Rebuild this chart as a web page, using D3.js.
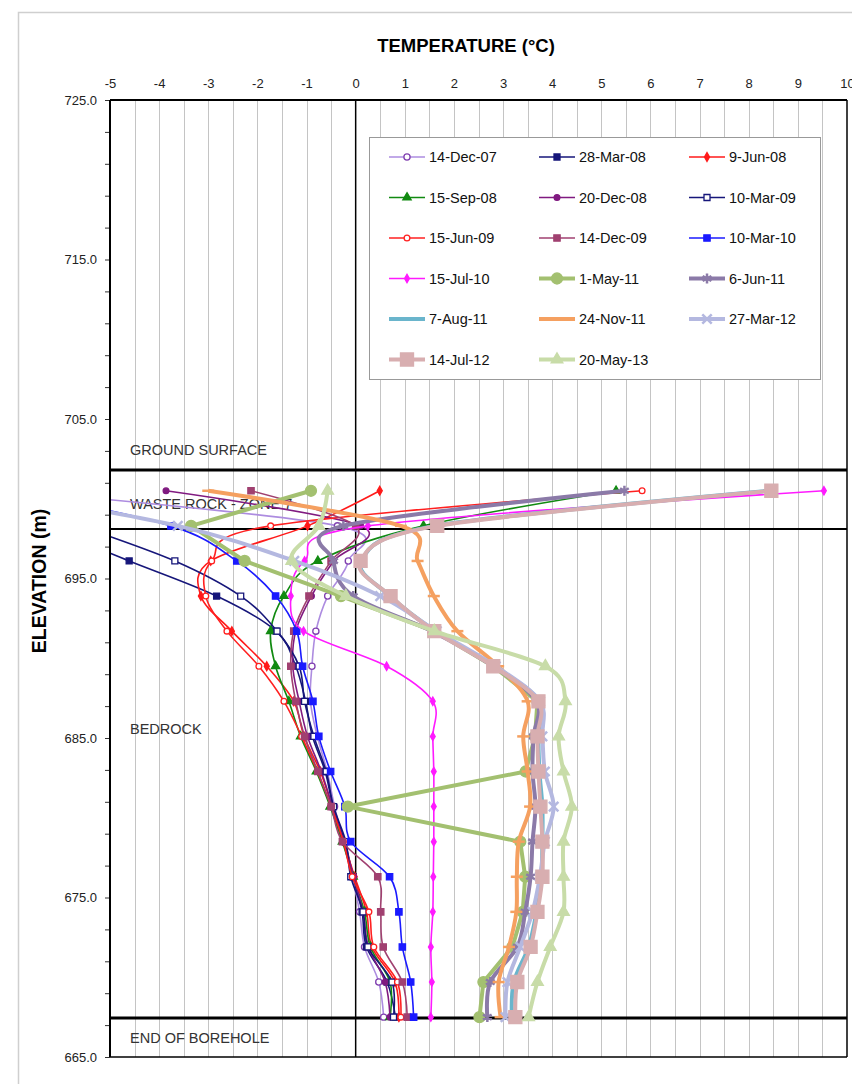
<!DOCTYPE html>
<html>
<head>
<meta charset="utf-8">
<script src="https://cdn.jsdelivr.net/npm/d3@7"></script>
<style>
  body { margin: 0; background: #fff; }
  text { font-family: "Liberation Sans", Arial, sans-serif; }
</style>
</head>
<body>
<svg id="chart" width="852" height="1084"></svg>
<script>
// sensor elevations (m), top to bottom
var elevations = [700.5, 698.3, 696.1, 693.9, 691.7, 689.5, 687.3, 685.1, 682.9, 680.7, 678.5, 676.3, 674.1, 671.9, 669.7, 667.5];

var seriesNames = ["14-Dec-07", "28-Mar-08", "9-Jun-08", "15-Sep-08", "20-Dec-08", "10-Mar-09",
  "15-Jun-09", "14-Dec-09", "10-Mar-10", "15-Jul-10", "1-May-11", "6-Jun-11",
  "7-Aug-11", "24-Nov-11", "27-Mar-12", "14-Jul-12", "20-May-13"];

// temperatures (°C), same order as elevations
var d14Dec07 = [-7.0, -0.37, -0.15, -0.57, -0.81, -0.89, -0.92, -0.78, -0.58, -0.43, -0.25, -0.07, 0.08, 0.18, 0.47, 0.57];
var d28Mar08 = [-8.5, -6.4, -4.61, -2.83, -1.62, -1.22, -1.02, -0.88, -0.62, -0.46, -0.22, -0.05, 0.13, 0.22, 0.64, 0.81];
var d9Jun08  = [0.49, -0.98, -2.95, -3.15, -2.52, -1.81, -1.26, -1.05, -0.72, -0.48, -0.25, -0.02, 0.22, 0.33, 0.80, 0.88];
var d15Sep08 = [5.3, 1.38, -0.77, -1.46, -1.73, -1.63, -1.36, -1.12, -0.80, -0.52, -0.27, -0.05, 0.18, 0.30, 0.70, 0.70];
var d20Dec08 = [-3.86, 0.10, -0.45, -0.90, -1.22, -1.28, -1.15, -0.98, -0.70, -0.47, -0.24, -0.04, 0.15, 0.26, 0.60, 0.70];
var d10Mar09 = [-7.5, -5.6, -3.68, -2.34, -1.60, -1.15, -1.04, -0.85, -0.60, -0.45, -0.20, -0.10, 0.15, 0.25, 0.74, 0.77];
var d15Jun09 = [5.83, -1.73, -2.93, -3.05, -2.62, -1.97, -1.46, -1.10, -0.78, -0.50, -0.25, -0.07, 0.27, 0.37, 0.85, 0.92];
var d14Dec09 = [-2.13, 0.0, -0.50, -0.95, -1.26, -1.32, -1.22, -1.04, -0.77, -0.50, -0.27, 0.45, 0.51, 0.56, 0.95, 1.05];
var d10Mar10 = [-7.0, -3.76, -2.42, -1.63, -1.20, -1.08, -0.87, -0.75, -0.51, -0.22, -0.10, 0.69, 0.88, 0.95, 1.12, 1.18];
var d15Jul10 = [9.53, 0.25, -1.04, -1.32, -1.06, 0.63, 1.57, 1.57, 1.59, 1.59, 1.59, 1.58, 1.57, 1.53, 1.55, 1.53];
var d1May11  = [-0.91, -3.35, -2.26, -0.30, 1.60, 2.80, 3.70, 3.65, 3.46, -0.16, 3.35, 3.45, 3.40, 3.19, 2.60, 2.52];
var d6Jun11  = [5.47, -0.25, -0.45, -0.05, 1.55, 2.80, 3.68, 3.62, 3.60, 3.66, 3.60, 3.56, 3.45, 3.29, 2.74, 2.68];
var d7Aug11  = [8.40, 1.62, 0.12, 0.70, 1.62, 2.82, 3.74, 3.72, 3.74, 3.80, 3.80, 3.78, 3.68, 3.52, 3.22, 3.18];
var d24Nov11 = [-3.0, 0.92, 1.26, 1.59, 2.07, 2.90, 3.50, 3.41, 3.50, 3.55, 3.32, 3.28, 3.27, 3.12, 2.91, 2.95];
var d27Mar12 = [-7.5, -3.62, -1.25, 0.50, 1.65, 2.85, 3.75, 3.80, 3.85, 4.03, 3.85, 3.75, 3.60, 3.35, 3.09, 3.05];
var d14Jul12 = [8.46, 1.66, 0.10, 0.71, 1.60, 2.80, 3.72, 3.70, 3.72, 3.76, 3.80, 3.80, 3.70, 3.56, 3.29, 3.25];
var d20May13 = [-0.57, -0.75, -1.30, -0.20, 1.60, 3.86, 4.27, 4.13, 4.23, 4.40, 4.23, 4.23, 4.23, 3.96, 3.70, 3.52];

var temps = [d14Dec07, d28Mar08, d9Jun08, d15Sep08, d20Dec08, d10Mar09, d15Jun09, d14Dec09, d10Mar10,
  d15Jul10, d1May11, d6Jun11, d7Aug11, d24Nov11, d27Mar12, d14Jul12, d20May13];

// axis ticks
var xTicks = [-5, -4, -3, -2, -1, 0, 1, 2, 3, 4, 5, 6, 7, 8, 9, 10];
var yLabelTicks = [665, 675, 685, 695, 705, 715, 725];

// stratigraphy lines and labels (elevation, m)
var boundaryElev = [701.8, 698.1, 667.45];
var zoneLabels = ["GROUND SURFACE", "WASTE ROCK - ZONE 7", "BEDROCK", "END OF BOREHOLE"];
var zoneLabelElev = [703.05, 699.7, 685.55, 666.2];

// styles per series (same order as seriesNames)
var styles = [
  {color: "#ad8ce0", w: 1.6, marker: "circle",   size: 30,  stroke: "#8040b0", fill: "#fff", smooth: true},
  {color: "#16167a", w: 1.6, marker: "square",   size: 36,  stroke: "#16167a", fill: "#16167a", smooth: true},
  {color: "#ff1a1a", w: 1.6, marker: "diamond",  size: 22,  stroke: "#ff1a1a", fill: "#ff1a1a", smooth: true},
  {color: "#118a11", w: 1.6, marker: "triangle", size: 30,  stroke: "#118a11", fill: "#118a11", smooth: true},
  {color: "#801a80", w: 1.6, marker: "circle",   size: 26,  stroke: "#801a80", fill: "#801a80", smooth: true},
  {color: "#16167a", w: 1.6, marker: "square",   size: 36,  stroke: "#16167a", fill: "#fff", smooth: true},
  {color: "#ff2020", w: 1.6, marker: "circle",   size: 26,  stroke: "#ff2020", fill: "#fff", smooth: true},
  {color: "#a04070", w: 1.6, marker: "square",   size: 40,  stroke: "#a04070", fill: "#a04070", smooth: true},
  {color: "#1a1aff", w: 1.6, marker: "square",   size: 40,  stroke: "#1a1aff", fill: "#1a1aff", smooth: true},
  {color: "#ff1aff", w: 1.6, marker: "diamond",  size: 20,  stroke: "#ff1aff", fill: "#ff1aff", smooth: true},
  {color: "#a3c070", w: 4,   marker: "circle",   size: 95,  stroke: "#a3c070", fill: "#a3c070", smooth: false},
  {color: "#8b7aa8", w: 4,   marker: "asterisk", size: 70,  stroke: "#8b7aa8", fill: "none", smooth: true},
  {color: "#6ab5cc", w: 4,   marker: "none",     size: 0,   stroke: "#6ab5cc", fill: "none", smooth: true},
  {color: "#f5a060", w: 4,   marker: "dash",     size: 6,   stroke: "#f5a060", fill: "none", smooth: true},
  {color: "#b4b8e0", w: 4,   marker: "times",    size: 60,  stroke: "#b4b8e0", fill: "none", smooth: true},
  {color: "#d8aeb0", w: 4,   marker: "square",   size: 170, stroke: "#d8aeb0", fill: "#d8aeb0", smooth: true},
  {color: "#c8dca8", w: 4,   marker: "triangle", size: 60,  stroke: "#c8dca8", fill: "#c8dca8", smooth: true}
];

var series = seriesNames.map(function(n, i) {
  return {name: n, style: styles[i], values: elevations.map(function(e, j) {
    return {elev: e, t: temps[i][j]};
  })};
});

var svg = d3.select("#chart");
// plot box (window.top is read-only, so no "top" name here)
var plotL = 110, plotR = 847, plotT = 100, plotB = 1057;

var x = d3.scaleLinear().domain([-5, 10]).range([plotL, plotR]);
var y = d3.scaleLinear().domain([665, 725]).range([plotB, plotT]);

// outer frame
svg.append("rect").attr("x", 18.5).attr("y", 12.5).attr("width", 900).attr("height", 1200)
  .attr("fill", "none").attr("stroke", "#cfcfcf").attr("stroke-width", 1.5);

// vertical gridlines every 0.5 °C
svg.append("g").selectAll("line")
  .data(d3.range(-4.5, 10, 0.5).filter(function(d) { return d !== 0; }))
  .enter().append("line")
  .attr("x1", function(d) { return Math.round(x(d)) + 0.5; })
  .attr("x2", function(d) { return Math.round(x(d)) + 0.5; })
  .attr("y1", plotT).attr("y2", plotB)
  .attr("stroke", "#c4c4c4").attr("stroke-width", 1);

// zero line
svg.append("line").attr("x1", x(0)).attr("x2", x(0)).attr("y1", plotT).attr("y2", plotB)
  .attr("stroke", "#000").attr("stroke-width", 1.5);

// boundaries
svg.append("g").selectAll("line").data(boundaryElev).enter().append("line")
  .attr("x1", plotL).attr("x2", plotR)
  .attr("y1", function(d) { return y(d); }).attr("y2", function(d) { return y(d); })
  .attr("stroke", "#000").attr("stroke-width", function(d, i) { return i === 1 ? 2 : 3; });

svg.append("g").selectAll("text").data(zoneLabels).enter().append("text")
  .attr("x", 130).attr("y", function(d, i) { return y(zoneLabelElev[i]); })
  .attr("dy", "0.35em").attr("font-size", "14.5px").attr("fill", "#333")
  .text(function(d) { return d; });

// top axis
var xAxis = d3.axisTop(x).tickValues(xTicks).tickSize(0).tickPadding(12)
  .tickFormat(function(d) { return d; });
var gx = svg.append("g").attr("transform", "translate(0," + plotT + ")").call(xAxis);
gx.select(".domain").remove();
gx.selectAll("text").attr("font-size", "13px").attr("font-family", "Liberation Sans, Arial, sans-serif").attr("fill", "#222");

// left axis, tick every 2 m, label every 10 m
var yAxis = d3.axisLeft(y).tickValues(d3.range(665, 726, 2)).tickSize(5).tickPadding(8)
  .tickFormat(function(d) { return yLabelTicks.indexOf(d) >= 0 ? d3.format(".1f")(d) : ""; });
var gy = svg.append("g").attr("transform", "translate(" + plotL + ",0)").call(yAxis);
gy.select(".domain").remove();
gy.selectAll("line").attr("stroke", "#333");
gy.selectAll("text").attr("font-size", "13px").attr("font-family", "Liberation Sans, Arial, sans-serif").attr("fill", "#222");

// titles
svg.append("text").attr("x", 466).attr("y", 52).attr("text-anchor", "middle")
  .attr("font-size", "18.5px").attr("font-weight", "bold").text("TEMPERATURE (°C)");
svg.append("text").attr("transform", "translate(46,581) rotate(-90)").attr("text-anchor", "middle")
  .attr("font-size", "19.5px").attr("font-weight", "bold").text("ELEVATION (m)");

// clip for plot
svg.append("clipPath").attr("id", "plotClip").append("rect")
  .attr("x", plotL).attr("y", plotT).attr("width", plotR - plotL).attr("height", plotB - plotT);

function symbolPath(m, size) {
  if (m === "dash") return "M" + (-size) + ",0H" + size;
  var types = {circle: d3.symbolCircle, square: d3.symbolSquare, diamond: d3.symbolDiamond,
    triangle: d3.symbolTriangle, asterisk: d3.symbolAsterisk, times: d3.symbolTimes};
  return d3.symbol().type(types[m]).size(size)();
}

function drawMarker(g, st) {
  if (st.marker === "none") return g;
  return g.append("path").attr("d", symbolPath(st.marker, st.size))
    .attr("fill", st.fill).attr("stroke", st.stroke)
    .attr("stroke-width", (st.marker === "asterisk" || st.marker === "times" || st.marker === "dash") ? 2.5 : 1.3);
}

var plot = svg.append("g").attr("clip-path", "url(#plotClip)");

var lineSmooth = d3.line().x(function(d) { return x(d.t); }).y(function(d) { return y(d.elev); })
  .curve(d3.curveCatmullRom.alpha(0));
var lineStraight = d3.line().x(function(d) { return x(d.t); }).y(function(d) { return y(d.elev); });

var sg = plot.selectAll("g.series").data(series).enter().append("g").attr("class", "series");

sg.append("path")
  .attr("d", function(d) { return d.style.smooth ? lineSmooth(d.values) : lineStraight(d.values); })
  .attr("fill", "none")
  .attr("stroke", function(d) { return d.style.color; })
  .attr("stroke-width", function(d) { return d.style.w; })
  .attr("stroke-linejoin", "round");

sg.each(function(s) {
  var g = d3.select(this);
  s.values.forEach(function(v) {
    var m = g.append("g").attr("transform", "translate(" + x(v.t) + "," + y(v.elev) + ")");
    drawMarker(m, s.style);
  });
});

// plot border
svg.append("line").attr("x1", plotL).attr("x2", plotR).attr("y1", plotT).attr("y2", plotT).attr("stroke", "#000").attr("stroke-width", 2);
svg.append("line").attr("x1", plotL).attr("x2", plotL).attr("y1", plotT).attr("y2", plotB).attr("stroke", "#000").attr("stroke-width", 2);
svg.append("line").attr("x1", plotL).attr("x2", plotR).attr("y1", plotB).attr("y2", plotB).attr("stroke", "#000").attr("stroke-width", 1.5);
svg.append("line").attr("x1", plotR).attr("x2", plotR).attr("y1", plotT).attr("y2", plotB).attr("stroke", "#000").attr("stroke-width", 1.5);

// legend
var legend = svg.append("g");
legend.append("rect").attr("x", 369.5).attr("y", 137.5).attr("width", 451).attr("height", 242)
  .attr("fill", "#fff").attr("stroke", "#999").attr("stroke-width", 1);

var colX = [389, 539, 689];
var rowY = [157, 197.5, 238, 278.5, 319, 359.5];

var li = legend.selectAll("g.item").data(series).enter().append("g").attr("class", "item")
  .attr("transform", function(d, i) { return "translate(" + colX[i % 3] + "," + rowY[Math.floor(i / 3)] + ")"; });

li.append("line").attr("x1", 0).attr("x2", 36).attr("y1", 0).attr("y2", 0)
  .attr("stroke", function(d) { return d.style.color; })
  .attr("stroke-width", function(d) { return d.style.w; });

li.each(function(s) {
  var m = d3.select(this).append("g").attr("transform", "translate(18,0)");
  var st = Object.assign({}, s.style);
  if (st.marker === "dash") st.size = 5;
  drawMarker(m, st);
});

li.append("text").attr("x", 40).attr("dy", "0.35em").attr("font-size", "14.5px").attr("fill", "#111")
  .text(function(d) { return d.name; });
</script>
</body>
</html>
